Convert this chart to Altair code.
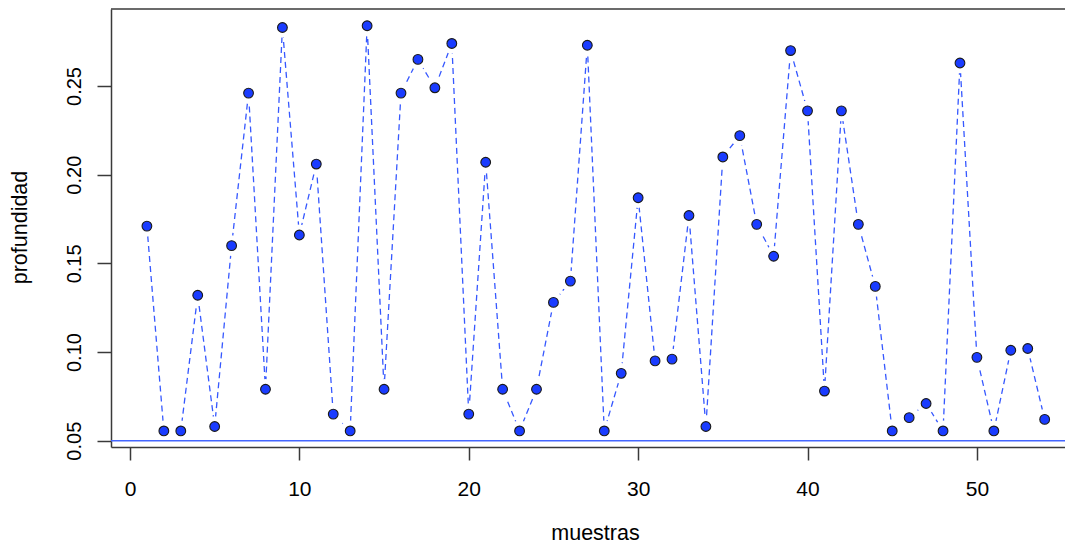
import altair as alt
import pandas as pd

muestras = list(range(1, 55))
profundidad = [
    0.171, 0.0555, 0.0555, 0.132, 0.058, 0.160, 0.246, 0.079, 0.283, 0.166,
    0.206, 0.065, 0.0555, 0.284, 0.079, 0.246, 0.265, 0.249, 0.274, 0.065,
    0.207, 0.079, 0.0555, 0.079, 0.128, 0.140, 0.273, 0.0555, 0.088, 0.187,
    0.095, 0.096, 0.177, 0.058, 0.210, 0.222, 0.172, 0.154, 0.270, 0.236,
    0.078, 0.236, 0.172, 0.137, 0.0555, 0.063, 0.071, 0.0555, 0.263, 0.097,
    0.0555, 0.101, 0.102, 0.062,
]
x_ticks = [0, 10, 20, 30, 40, 50]
y_ticks = [0.05, 0.10, 0.15, 0.20, 0.25]
ref_level = [0.05]

df = pd.DataFrame({"muestras": muestras, "profundidad": profundidad})
df_ref = pd.DataFrame({"profundidad": ref_level})

FONT = "Liberation Sans"
FRAME = "#3a3a3a"

x_enc = alt.X(
    "muestras:Q",
    scale=alt.Scale(domain=[-1.12, 55.2], nice=False, zero=False),
    axis=alt.Axis(
        values=x_ticks, format="d", title="muestras",
        tickSize=13, labelPadding=18, labelFontSize=21,
        titleFontSize=21.5, titleBaseline="alphabetic", titleY=92, titleX=484,
        titleAlign="center",
    ),
)
y_enc = alt.Y(
    "profundidad:Q",
    scale=alt.Scale(domain=[0.04645, 0.29343], nice=False, zero=False),
    axis=alt.Axis(
        values=y_ticks, format=".2f", title="profundidad",
        tickSize=14, labelPadding=17, labelFontSize=20,
        labelAngle=270, labelAlign="center", labelBaseline="alphabetic",
        titleFontSize=21.5, titleAngle=270, titleBaseline="alphabetic",
        titleX=-85, titleY=218, titleAlign="center",
    ),
)

line = alt.Chart(df).mark_line(
    color="#3658ff", strokeDash=[6, 4], strokeWidth=1.3
).encode(x=x_enc, y=y_enc)

halo = alt.Chart(df).mark_circle(
    size=430, color="white", opacity=1
).encode(x=x_enc, y=y_enc)

points = alt.Chart(df).mark_point(
    shape="circle", filled=True, fill="#1a3cff", stroke="#1a1a1a",
    strokeWidth=1.1, size=95, opacity=1
).encode(x=x_enc, y=y_enc)

rule = alt.Chart(df_ref).mark_rule(
    color="#4466ff", strokeWidth=1.5
).encode(y=y_enc)

# top border of the plot frame (R box); right border lies outside the picture
top_border = alt.Chart(df_ref).mark_rule(
    color=FRAME, strokeWidth=1.5
).encode(y=alt.value(0))

chart = alt.layer(line, halo, points, rule, top_border).properties(
    width=954, height=438,
    padding={"left": 103, "top": 1, "right": 0, "bottom": 97},
    autosize=alt.AutoSizeParams(type="none"),
).configure_view(
    stroke=None
).configure_axis(
    domain=True, domainColor=FRAME, domainWidth=1.5,
    grid=False, tickColor=FRAME, tickWidth=1.5,
    labelFont=FONT, titleFont=FONT, labelColor="black", titleColor="black",
    titleFontWeight="normal",
)

chart.save("out.html", embed_options={"renderer": "svg", "actions": False})
